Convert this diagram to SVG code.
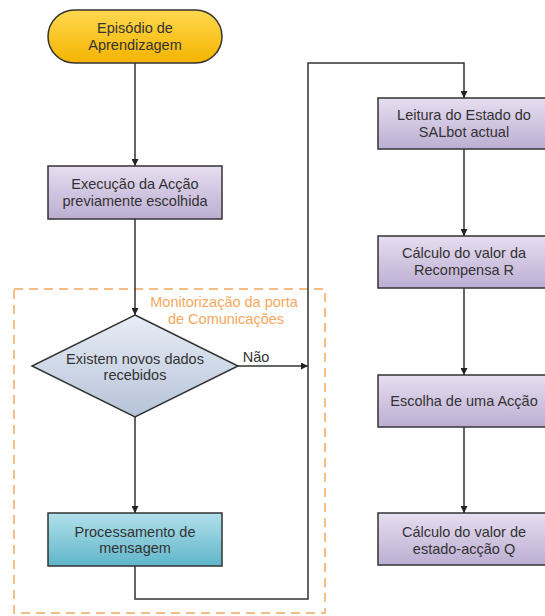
<svg xmlns="http://www.w3.org/2000/svg" width="545" height="616" viewBox="0 0 545 616">
<defs>
<linearGradient id="gY" x1="0" y1="0" x2="0" y2="1"><stop offset="0" stop-color="#ffd84f"/><stop offset="1" stop-color="#f4b400"/></linearGradient>
<linearGradient id="gP" x1="0" y1="0" x2="0" y2="1"><stop offset="0" stop-color="#e6def0"/><stop offset="1" stop-color="#bcaed2"/></linearGradient>
<linearGradient id="gD" x1="0" y1="0" x2="0" y2="1"><stop offset="0" stop-color="#e8edf6"/><stop offset="1" stop-color="#b6c3d8"/></linearGradient>
<linearGradient id="gT" x1="0" y1="0" x2="0" y2="1"><stop offset="0" stop-color="#b2e0ea"/><stop offset="1" stop-color="#5fb6ca"/></linearGradient>
<marker id="arr" viewBox="0 0 10 10" refX="10" refY="5" markerWidth="7" markerHeight="7" markerUnits="userSpaceOnUse" orient="auto"><path d="M0,0 L10,5 L0,10 z" fill="#222"/></marker>
</defs>
<style>
.box{stroke:#333;stroke-width:1.5}
.t{font-family:"Liberation Sans",Arial,sans-serif;font-size:14.5px;fill:#333;text-anchor:middle}
.o{font-family:"Liberation Sans",Arial,sans-serif;font-size:14.5px;fill:#f5a860;text-anchor:middle}
.c{fill:none;stroke:#333;stroke-width:1.5}
</style>
<rect x="14" y="289" width="311" height="324" fill="none" stroke="#f5a860" stroke-width="1.5" stroke-dasharray="9 6"/>
<text class="o" x="224" y="307">Monitorização da porta</text>
<text class="o" x="226" y="324">de Comunicações</text>
<g id="connectors">
<line class="c" x1="135" y1="63" x2="135" y2="166" marker-end="url(#arr)"/>
<line class="c" x1="135" y1="219" x2="135" y2="315" marker-end="url(#arr)"/>
<line class="c" x1="135" y1="417" x2="135" y2="513" marker-end="url(#arr)"/>
<line class="c" x1="238" y1="366" x2="308" y2="366" marker-end="url(#arr)"/>
<polyline class="c" points="135,566 135,599 308,599 308,63 464,63 464,98" marker-end="url(#arr)"/>
<line class="c" x1="464" y1="149" x2="464" y2="236" marker-end="url(#arr)"/>
<line class="c" x1="464" y1="288" x2="464" y2="375" marker-end="url(#arr)"/>
<line class="c" x1="464" y1="427" x2="464" y2="513" marker-end="url(#arr)"/>
<text class="t" x="256" y="362">Não</text>
<text class="t" x="150" y="402">Sim</text>
</g>
<g id="start">
<rect class="box" x="48" y="10" width="174" height="53" rx="26.5" fill="url(#gY)"/>
<text class="t" x="135" y="33">Episódio de</text>
<text class="t" x="135" y="50">Aprendizagem</text>
</g>
<g id="exec">
<rect class="box" x="48" y="166" width="174" height="53" fill="url(#gP)"/>
<text class="t" x="135" y="189">Execução da Acção</text>
<text class="t" x="135" y="206">previamente escolhida</text>
</g>
<g id="decision">
<polygon class="box" points="135,315 238,366 135,417 32,366" fill="url(#gD)"/>
<text class="t" x="135" y="364">Existem novos dados</text>
<text class="t" x="135" y="380">recebidos</text>
</g>
<g id="proc">
<rect class="box" x="48" y="513" width="174" height="53" fill="url(#gT)"/>
<text class="t" x="135" y="537">Processamento de</text>
<text class="t" x="135" y="553">mensagem</text>
</g>
<g id="leitura">
<rect class="box" x="378" y="98" width="172" height="51" fill="url(#gP)"/>
<text class="t" x="464" y="120">Leitura do Estado do</text>
<text class="t" x="464" y="137">SALbot actual</text>
</g>
<g id="recompensa">
<rect class="box" x="378" y="236" width="172" height="52" fill="url(#gP)"/>
<text class="t" x="464" y="258">Cálculo do valor da</text>
<text class="t" x="464" y="275">Recompensa R</text>
</g>
<g id="escolha">
<rect class="box" x="378" y="375" width="172" height="52" fill="url(#gP)"/>
<text class="t" x="464" y="406">Escolha de uma Acção</text>
</g>
<g id="q">
<rect class="box" x="378" y="513" width="172" height="52" fill="url(#gP)"/>
<text class="t" x="464" y="537">Cálculo do valor de</text>
<text class="t" x="464" y="554">estado-acção Q</text>
</g>
</svg>
